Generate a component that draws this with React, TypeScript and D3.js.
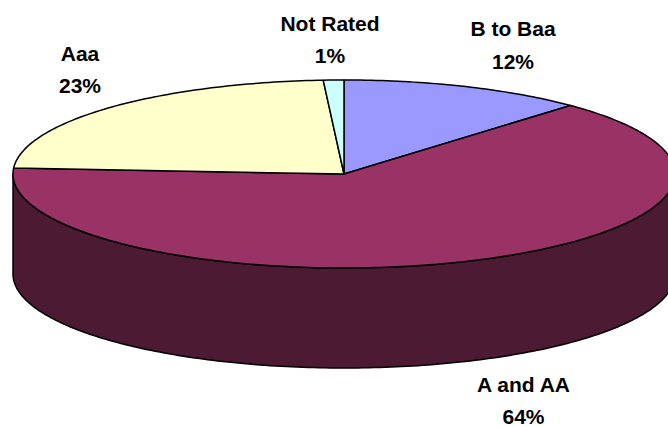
import React from "react";
import * as d3 from "d3";

const categories = ["B to Baa", "A and AA", "Aaa", "Not Rated"];
const shares = [12, 64, 23, 1];
const sliceColors = ["#9999FF", "#993366", "#FFFFCC", "#CCFFFF"];
const wallColor = "#4C1A33";
const labelAnchors: [number, number, number][] = [
  [513, 36, 69],
  [523.5, 392, 424],
  [80, 61, 93],
  [330, 31, 63],
];

const W = 668, H = 427;
const x = d3.scaleLinear().domain([-1, 1]).range([13, 675]);
const y = d3.scaleLinear().domain([-1, 1]).range([80, 268]);
const depth = 100;

const pt = (a: number, dy = 0): [number, number] => [x(Math.sin(a)), y(-Math.cos(a)) + dy];
const sample = (a0: number, a1: number, dy = 0) => {
  const n = Math.max(2, Math.ceil(Math.abs(a1 - a0) * 60));
  return d3.range(n + 1).map((i) => pt(a0 + ((a1 - a0) * i) / n, dy));
};
const line = d3.line();

export default function App() {
  const arcs = d3.pie<number>().sort(null)(shares);
  const wall = [...sample(Math.PI / 2, (3 * Math.PI) / 2), ...sample((3 * Math.PI) / 2, Math.PI / 2, depth)];
  const stroke = { stroke: "#000", strokeWidth: 1.5, strokeLinejoin: "round" as const };
  return (
    <svg width={W} height={H} viewBox={`0 0 ${W} ${H}`} style={{ position: "absolute", left: 0, top: 0, background: "#fff" }}>
      <path d={line(wall)! + "Z"} fill={wallColor} {...stroke} />
      {arcs.map((a, i) => (
        <path
          key={categories[i]}
          d={line([[x(0), y(0)], ...sample(a.startAngle, a.endAngle)])! + "Z"}
          fill={sliceColors[i]}
          {...stroke}
        />
      ))}
      {categories.map((c, i) => (
        <g key={c} textAnchor="middle" fontFamily="'Liberation Sans', Arial, sans-serif" fontWeight="bold" fontSize={21} fill="#000">
          <text x={labelAnchors[i][0]} y={labelAnchors[i][1]}>{c}</text>
          <text x={labelAnchors[i][0]} y={labelAnchors[i][2]}>{shares[i]}%</text>
        </g>
      ))}
    </svg>
  );
}
